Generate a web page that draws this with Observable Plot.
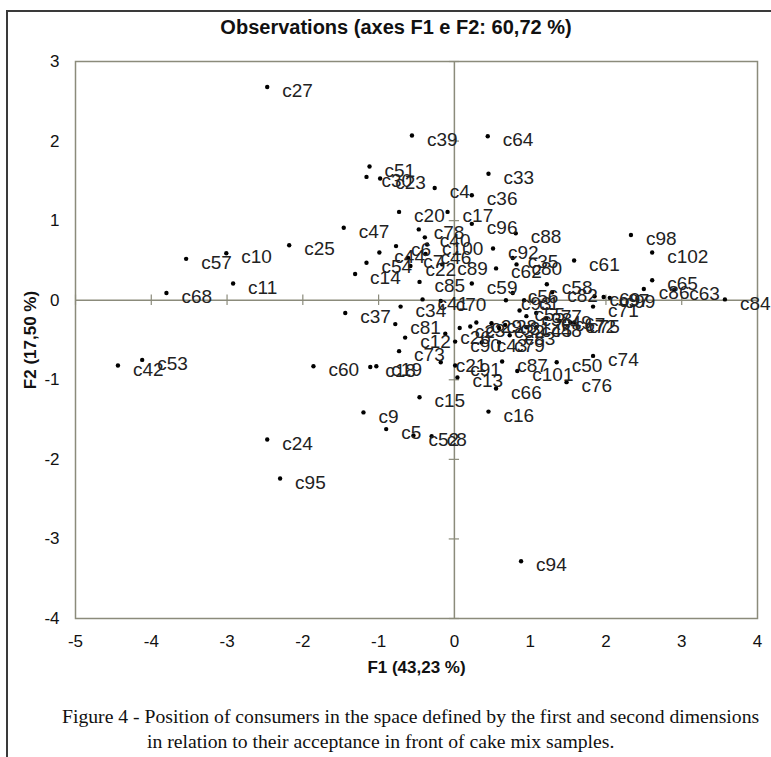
<!DOCTYPE html>
<html><head><meta charset="utf-8">
<script src="https://cdn.jsdelivr.net/npm/d3@7"></script>
<script src="https://cdn.jsdelivr.net/npm/@observablehq/plot@0.6"></script>
<style>
body{margin:0;background:#fff;width:771px;height:757px;overflow:hidden;position:relative;font-family:"Liberation Sans",Arial,sans-serif;}
#frame{position:absolute;left:6px;top:10px;width:900px;height:900px;border-top:2px solid #3a3a3a;border-left:2px solid #3a3a3a;}
#title{position:absolute;top:16px;left:0;width:792px;text-align:center;font-weight:bold;font-size:20px;color:#111;}
#chart{position:absolute;left:0;top:0;}
#caption{position:absolute;left:62px;top:704px;font-family:"Liberation Serif","Times New Roman",serif;font-size:19.7px;line-height:25px;color:#111;white-space:nowrap;}
#chart svg [aria-label="x-axis label"] text, #chart svg [aria-label="y-axis label"] text{font-weight:bold;}
</style></head><body>
<div id="frame"></div>
<div id="chart"></div>
<div id="title">Observations (axes F1 e F2: 60,72 %)</div>
<div id="caption">Figure 4 - Position of consumers in the space defined by the first and second dimensions<br><span style="padding-left:85px">in relation to their acceptance in front of cake mix samples.</span></div>
<script>
const labels = ["c27","c39","c64","c51","c30","c23","c33","c4","c36","c20",
  "c17","c96","c47","c78","c88","c25","c40","c100","c92","c6",
  "c44","c7","c46","c22","c89","c54","c14","c62","c35","c80",
  "c61","c98","c102","c65","c86","c63","c84","c85","c59","c58",
  "c56","c93","c82","c69","c97","c99","c71","c72","c75","c37",
  "c34","c41","c70","c81","c12","c73","c60","c18","c19","c21",
  "c91","c13","c15","c16","c9","c5","c52","c8","c24","c95",
  "c94","c87","c101","c50","c74","c76","c66","c57","c10","c11",
  "c68","c42","c53","c90","c26","c29","c28","c32","c45","c48",
  "c43","c79","c55","c2","c3","c31","c38","c49","c67","c77",
  "c83","c1"];
const f1 = [-2.47,-0.56,0.44,-1.12,-1.16,-0.98,0.45,-0.26,0.23,-0.73,
  -0.09,0.23,-1.46,-0.47,0.81,-2.18,-0.39,-0.36,0.51,-0.77,
  -0.99,-0.61,-0.38,-0.58,-0.16,-1.16,-1.31,0.55,0.77,0.82,
  1.58,2.33,2.61,2.61,2.50,2.90,3.57,-0.46,0.23,1.22,
  0.77,0.68,1.29,1.85,1.97,2.05,1.83,1.53,1.58,-1.44,
  -0.71,-0.42,-0.18,-0.78,-0.65,-0.73,-1.86,-1.11,-1.03,-0.18,
  0.01,0.04,-0.46,0.45,-1.20,-0.90,-0.54,-0.30,-2.47,-2.30,
  0.88,0.63,0.83,1.35,1.83,1.48,0.55,-3.54,-3.01,-2.92,
  -3.80,-4.44,-4.12,0.01,-0.12,0.29,0.49,0.59,0.95,1.08,
  0.36,0.59,0.86,0.07,0.21,0.67,0.95,1.21,1.39,1.08,
  0.73,0.92];
const f2 = [2.68,2.07,2.06,1.68,1.55,1.53,1.59,1.41,1.32,1.11,
  1.11,0.96,0.91,0.89,0.84,0.69,0.79,0.70,0.65,0.68,
  0.60,0.53,0.58,0.43,0.45,0.47,0.33,0.40,0.53,0.45,
  0.50,0.82,0.60,0.25,0.14,0.13,0.01,0.23,0.21,0.20,
  0.09,0.00,0.10,0.05,0.04,0.03,-0.08,-0.28,-0.28,-0.16,
  -0.08,0.01,-0.01,-0.30,-0.47,-0.64,-0.83,-0.84,-0.83,-0.78,
  -0.82,-0.97,-1.22,-1.40,-1.41,-1.62,-1.70,-1.71,-1.75,-2.24,
  -3.28,-0.77,-0.89,-0.78,-0.70,-1.03,-1.11,0.52,0.59,0.21,
  0.09,-0.82,-0.75,-0.52,-0.42,-0.28,-0.29,-0.35,-0.34,-0.34,
  -0.53,-0.53,-0.13,-0.35,-0.33,-0.31,-0.20,-0.23,-0.26,-0.16,
  -0.44,0.00];
const xTicks = [-5,-4,-3,-2,-1,0,1,2,3,4];
const yTicks = [-4,-3,-2,-1,0,1,2,3];

const gray = "#8b8b7b";
const fmt = d => String(d);
const points = labels.map((l,i)=>({label:l, f1:f1[i], f2:f2[i]}));
const chart = Plot.plot({
  width: 771, height: 690,
  marginLeft: 75, marginRight: 14, marginTop: 61, marginBottom: 72,
  x: {domain: [-5,4]}, y: {domain: [-4,3]},
  style: {fontFamily: "'Liberation Sans', Arial, sans-serif", fontSize: "17px", color: "#111", background: "transparent", overflow: "visible"},
  marks: [
    Plot.frame({stroke: gray, strokeWidth: 1.5}),
    Plot.ruleX([0], {stroke: gray, strokeWidth: 1.5}),
    Plot.ruleY([0], {stroke: gray, strokeWidth: 1.5}),
    Plot.ruleX(xTicks, {x: d=>d, y1: -0.065, y2: 0.065, stroke: gray, strokeWidth: 1.2}),
    Plot.ruleY(yTicks, {y: d=>d, x1: -0.068, x2: 0.068, stroke: gray, strokeWidth: 1.2}),
    Plot.axisX(xTicks, {tickSize: 0, tickPadding: 16, fontSize: 17, tickFormat: fmt, label: "F1 (43,23 %)", labelAnchor: "center", labelOffset: 54, labelArrow: false}),
    Plot.axisY(yTicks, {tickSize: 0, tickPadding: 16, fontSize: 17, tickFormat: fmt, label: "F2 (17,50 %)", labelAnchor: "center", labelOffset: 52, labelArrow: false}),
    Plot.dot(points, {x: "f1", y: "f2", r: 2.2, fill: "#000", stroke: null}),
    Plot.text(points, {x: "f1", y: "f2", text: "label", dx: 15, dy: 4, textAnchor: "start", fontSize: 19, fill: "#222"})
  ]
});
document.getElementById("chart").appendChild(chart);
</script>
</body></html>
